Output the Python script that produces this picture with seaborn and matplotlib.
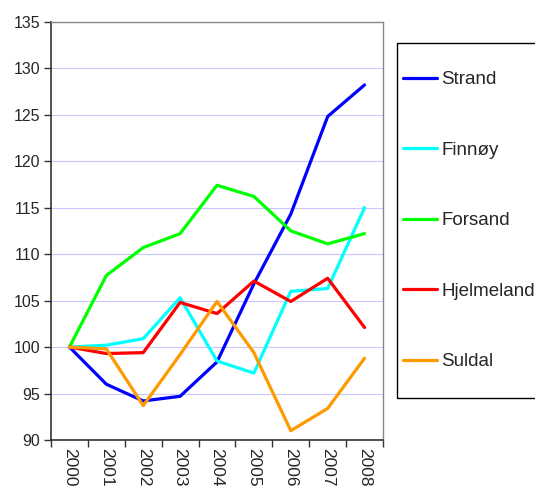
import matplotlib
matplotlib.use("Agg")
import matplotlib.pyplot as plt
import seaborn as sns
import pandas as pd
from matplotlib.patches import Rectangle
from matplotlib.lines import Line2D

years = ["2000", "2001", "2002", "2003", "2004", "2005", "2006", "2007", "2008"]
strand = [100, 96.0, 94.2, 94.7, 98.4, 106.8, 114.3, 124.8, 128.2]
finnoy = [100, 100.2, 100.9, 105.3, 98.5, 97.2, 106.0, 106.3, 115.0]
forsand = [100, 107.7, 110.7, 112.2, 117.4, 116.2, 112.5, 111.1, 112.2]
hjelmeland = [100, 99.3, 99.4, 104.8, 103.6, 107.1, 104.9, 107.4, 102.1]
suldal = [100, 99.8, 93.7, 99.2, 104.9, 99.4, 91.0, 93.4, 98.8]
series_names = ["Strand", "Finnøy", "Forsand", "Hjelmeland", "Suldal"]
colors = ["#0000ff", "#00ffff", "#00ff00", "#ff0000", "#ff9900"]

series = [strand, finnoy, forsand, hjelmeland, suldal]
rows = []
for name, vals in zip(series_names, series):
    for i, v in enumerate(vals):
        rows.append({"idx": i, "value": v, "kommune": name})
df = pd.DataFrame(rows)

sns.set_style("white")
plt.rcParams["font.family"] = ["Liberation Sans", "DejaVu Sans"]

fig = plt.figure(figsize=(5.35, 4.87), dpi=100)
ax = fig.add_axes([51 / 535, 1 - 440 / 487, (383 - 51) / 535, (440 - 21.7) / 487])

sns.lineplot(data=df, x="idx", y="value", hue="kommune", hue_order=series_names,
             palette=colors, linewidth=2.3, ax=ax, legend=False)

ax.set_xlim(-0.5, len(years) - 0.5)
ax.set_ylim(90, 135)
ax.set_yticks(range(90, 136, 5))
ax.yaxis.grid(True, color="#c8c8ff", linewidth=0.8)
ax.xaxis.grid(False)
ax.set_axisbelow(True)

ax.set_xticks([i - 0.5 for i in range(len(years) + 1)])
ax.set_xticklabels([])
ax.set_xticks(range(len(years)), minor=True)
ax.set_xticklabels(years, minor=True, rotation=270, fontsize=12.5)
ax.tick_params(axis="x", which="minor", length=0, pad=6)
ax.tick_params(axis="x", which="major", length=5, width=1, color="#333333", direction="out", bottom=True)
ax.tick_params(axis="y", length=5, width=1, color="#333333", direction="out", left=True, labelsize=11.5, pad=3)
ax.set_xlabel("")
ax.set_ylabel("")

for s in ["left", "bottom"]:
    ax.spines[s].set_color("#333333")
    ax.spines[s].set_linewidth(1.2)
for s in ["top", "right"]:
    ax.spines[s].set_color("#888888")
    ax.spines[s].set_linewidth(1.0)

handles = [Line2D([], [], color=c, linewidth=2.3) for c in colors]
leg = fig.legend(handles, series_names, loc="upper left",
                 bbox_to_anchor=(390 / 535, 1 - 58 / 487), frameon=False,
                 fontsize=13.5, handlelength=1.8, handletextpad=0.25,
                 labelspacing=2.85, borderpad=0.2)
fig.add_artist(Rectangle((397 / 535, 1 - 398 / 487), 0.5, (398 - 43) / 487,
                         transform=fig.transFigure, fill=False, edgecolor="black",
                         linewidth=1.0, clip_on=False))

fig.savefig("out.png", dpi=100)
